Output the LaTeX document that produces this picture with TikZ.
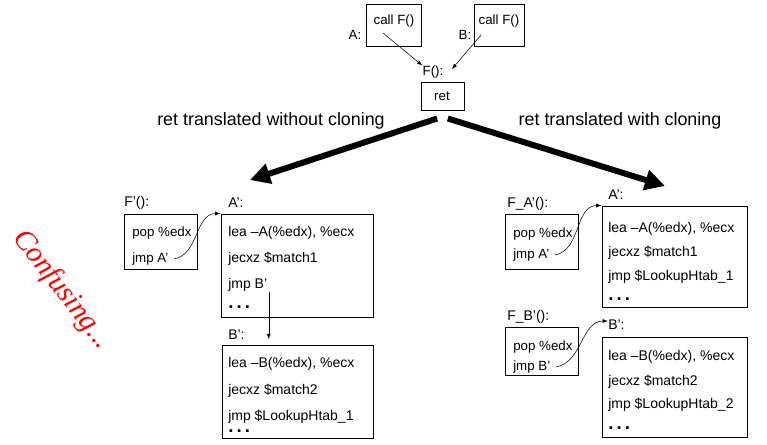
\documentclass[tikz,border=0pt]{standalone}
\usepackage{fontspec}
\setmainfont{Liberation Sans}
\newfontfamily\handfont{Liberation Serif}
\usetikzlibrary{fit,arrows.meta}

\newcommand{\moredots}{{\bfseries\fontsize{14}{14}\selectfont .\,.\,.}}

\begin{document}
\begin{tikzpicture}
                                [
                                    x=0.75pt, y=-0.75pt,
                                    box/.style = {draw, shape=rectangle, inner sep=0pt, line width=0.75pt},
                                    small/.style = {inner sep=0pt, font=\fontsize{10}{12}\selectfont},
                                    lbl/.style = {anchor=west, inner sep=0pt, font=\fontsize{10.5}{12}\selectfont},
                                    code/.style = {anchor=west, inner sep=0pt, font=\fontsize{10.5}{12}\selectfont, text height=7.5pt, text depth=2pt},
                                    stub/.style = {code, font=\fontsize{10}{12}\selectfont},
                                    title/.style = {inner sep=0pt, font=\fontsize{13.4}{16}\selectfont},
                                    fat/.style = {line width=4.5pt, -{Triangle[length=15pt,width=15pt]}},
                                ]
                                \useasboundingbox (0,0) rectangle (767,444);

                                % callers and F()
                                \node[small] (callA) at (394,21)     {call F()};
                                \node[box, fit={(366,4) (421,46)}] (boxA) {};
                                \node[small] (labA) at (355,35)     {A:};
                                \node[small] (callB) at (499,21)     {call F()};
                                \node[box, fit={(474,4) (524,46)}] (boxB) {};
                                \node[small] (labB) at (465,35)     {B:};
                                \node[small] (labF) at (433,72)     {F():};
                                \node[small] (ret) at (442,96)     {ret};
                                \node[box, fit={(421,82) (464,110)}] (boxRet) {};

                                \coordinate (fromA) at (383,33);
                                \coordinate (fromB) at (481,35);
                                \coordinate (toB) at (452,69);
                                \draw [-latex] (fromA) -- (labF.north west);
                                \draw [-latex] (fromB) -- (toB);

                                \node[title] (noclone) at (271,121)   {ret translated without cloning};
                                \node[title] (clone) at (620,121)   {ret translated with cloning};

                                \coordinate (tipL) at (250,180);
                                \coordinate (tipR) at (665,186);
                                \draw [fat] ([xshift=-4pt,yshift=-6pt]boxRet.south) -- (tipL);
                                \draw [fat] ([xshift=4pt,yshift=-6pt]boxRet.south) -- (tipR);

                                % without cloning
                                \node[lbl] (labFp) at (124,203)   {F'():};
                                \node[box, fit={(124,214) (197,269)}] (boxFp) {};
                                \node[stub] (popL) at (132,233)   {pop \%edx};
                                \node[stub] (jmpL) at (132,259)   {jmp A'};

                                \node[lbl] (labAL) at (228,203)   {A':};
                                \node[box, fit={(221,214) (373,317)}] (boxAL) {};
                                \node[code] (AL1) at (228,233)   {lea –A(\%edx), \%ecx};
                                \node[code] (AL2) at (228,259)   {jecxz \$match1};
                                \node[code] (AL3) at (228,285)   {jmp B'};
                                \node[code] (AL4) at (228,305)   {\moredots};

                                \node[lbl] (labBL) at (228,335)   {B':};
                                \node[box, fit={(222,345) (373,438)}] (boxBL) {};
                                \node[code] (BL1) at (228,364)   {lea –B(\%edx), \%ecx};
                                \node[code] (BL2) at (228,391)   {jecxz \$match2};
                                \node[code] (BL3) at (228,417)   {jmp \$LookupHtab\_1};
                                \node[code] (BL4) at (228,429)   {\moredots};

                                \draw [-latex] ([xshift=1pt]AL3.south east) -- ([xshift=1pt,yshift=4pt]AL3.south east |- boxBL.north);
                                \draw [-latex] ([xshift=4pt]jmpL.east) to[out=10,in=180] (boxAL.north west);

                                % with cloning
                                \node[lbl] (labFA) at (507,204)   {F\_A'():};
                                \node[box, fit={(505,214) (578,269)}] (boxFA) {};
                                \node[stub] (popA) at (513,234)   {pop \%edx};
                                \node[stub] (jmpA) at (513,255)   {jmp A'};

                                \node[lbl] (labAR) at (608,195)   {A':};
                                \node[box, fit={(602,206) (747,307)}] (boxAR) {};
                                \node[code] (AR1) at (608,229)   {lea –A(\%edx), \%ecx};
                                \node[code] (AR2) at (608,253)   {jecxz \$match1};
                                \node[code] (AR3) at (608,277)   {jmp \$LookupHtab\_1};
                                \node[code] (AR4) at (608,297)   {\moredots};

                                \node[lbl] (labFB) at (507,317)   {F\_B'():};
                                \node[box, fit={(505,327) (578,375)}] (boxFB) {};
                                \node[stub] (popB) at (513,347)   {pop \%edx};
                                \node[stub] (jmpB) at (513,367)   {jmp B'};

                                \node[lbl] (labBR) at (608,325)   {B':};
                                \node[box, fit={(602,337) (747,437)}] (boxBR) {};
                                \node[code] (BR1) at (608,357)   {lea –B(\%edx), \%ecx};
                                \node[code] (BR2) at (608,382)   {jecxz \$match2};
                                \node[code] (BR3) at (608,405)   {jmp \$LookupHtab\_2};
                                \node[code] (BR4) at (608,426)   {\moredots};

                                \draw [-latex] ([xshift=4pt]jmpA.east) to[out=10,in=180] (boxAR.north west);
                                \draw [-latex] ([xshift=4pt]jmpB.east) to[out=10,in=180] ([yshift=3pt]labBR.west);

                                % remark
                                \node[rotate=-52, text=red, font=\handfont\itshape\fontsize{22}{24}\selectfont] (confusing) at (62,290) {Confusing...};

                            \end{tikzpicture}
\end{document}
